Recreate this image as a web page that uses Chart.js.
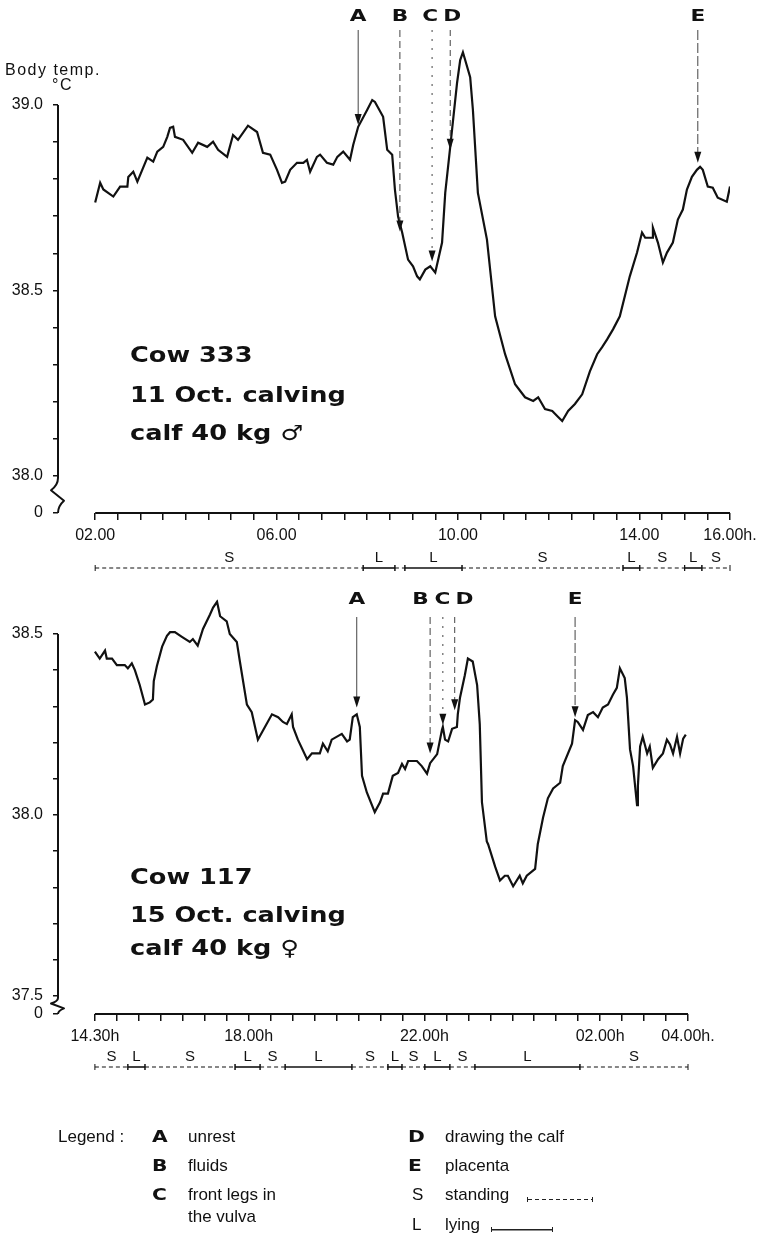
<!DOCTYPE html>
<html lang="en">
<head>
<meta charset="UTF-8">
<title>Body temperature around calving</title>
<script src="https://cdn.jsdelivr.net/npm/chart.js"></script>
<style>
  body { margin: 0; background: #fff; }
  #page { position: relative; width: 774px; height: 1236px; overflow: hidden; color: #111;
          font-family: "Liberation Sans", Arial, sans-serif; }
  canvas { position: absolute; left: 0; }
  .txt { position: absolute; white-space: nowrap; line-height: 18px; }
  .lab { font-size: 16px; letter-spacing: 1.5px; }
  .cow { font-family: "DejaVu Sans", sans-serif; font-weight: bold; font-size: 21px; line-height: 22px;
         transform: scaleX(1.22); transform-origin: 0 50%; }
  .lg { font-size: 17px; }
  .key { font-family: "DejaVu Sans", sans-serif; font-weight: bold; font-size: 15px;
         transform: scaleX(1.35); transform-origin: 0 50%; }
  .smp { position: absolute; height: 5px; border-left: 1px solid #222; border-right: 1px solid #222; }
  .smp.solid { background: linear-gradient(#222, #222) center / 100% 1.5px no-repeat; }
  .smp.dash { background: repeating-linear-gradient(90deg, #222 0 4px, transparent 4px 7px) center / 100% 1px no-repeat; }
</style>
</head>
<body>
<div id="page">
  <canvas id="topChart" width="774" height="580" style="top:0"></canvas>
  <canvas id="bottomChart" width="774" height="656" style="top:580px"></canvas>

  <div class="txt lab" style="left:5px;top:61px">Body temp.</div>
  <div class="txt lab" style="left:52px;top:76px">°C</div>

  <div class="txt cow" style="left:130px;top:344px">Cow 333</div>
  <div class="txt cow" style="left:130px;top:384px">11 Oct. calving</div>
  <div class="txt cow" style="left:130px;top:422px">calf 40 kg ♂</div>

  <div class="txt cow" style="left:130px;top:866px">Cow 117</div>
  <div class="txt cow" style="left:130px;top:904px">15 Oct. calving</div>
  <div class="txt cow" style="left:130px;top:937px">calf 40 kg ♀</div>

  <div class="txt lg" style="left:58px;top:1128px">Legend :</div>
  <div class="txt key" style="left:152px;top:1128px">A</div>
  <div class="txt lg" style="left:188px;top:1128px">unrest</div>
  <div class="txt key" style="left:152px;top:1157px">B</div>
  <div class="txt lg" style="left:188px;top:1157px">fluids</div>
  <div class="txt key" style="left:152px;top:1186px">C</div>
  <div class="txt lg" style="left:188px;top:1186px">front legs in</div>
  <div class="txt lg" style="left:188px;top:1208px">the vulva</div>

  <div class="txt key" style="left:408px;top:1128px">D</div>
  <div class="txt lg" style="left:445px;top:1128px">drawing the calf</div>
  <div class="txt key" style="left:408px;top:1157px">E</div>
  <div class="txt lg" style="left:445px;top:1157px">placenta</div>
  <div class="txt lg" style="left:412px;top:1186px">S</div>
  <div class="txt lg" style="left:445px;top:1186px">standing</div>
  <div class="smp dash" style="left:527px;top:1197px;width:64px"></div>
  <div class="txt lg" style="left:412px;top:1216px">L</div>
  <div class="txt lg" style="left:445px;top:1216px">lying</div>
  <div class="smp solid" style="left:491px;top:1227px;width:60px"></div>
</div>

<script>
// ---- Cow 333 (11 Oct.), time in hours of the day ----
const topTimes = [
  2.00, 2.11, 2.18, 2.40, 2.55, 2.71, 2.73, 2.84, 2.93, 3.15,
  3.28, 3.37, 3.50, 3.59, 3.65, 3.72, 3.76, 3.94, 4.14, 4.27,
  4.47, 4.60, 4.71, 4.91, 5.04, 5.15, 5.37, 5.57, 5.70, 5.86,
  6.01, 6.12, 6.19, 6.30, 6.45, 6.59, 6.67, 6.74, 6.89, 6.96,
  7.11, 7.25, 7.34, 7.47, 7.62, 7.69, 7.80, 8.00, 8.11, 8.17,
  8.35, 8.44, 8.55, 8.61, 8.68, 8.77, 8.90, 9.01, 9.10, 9.16,
  9.28, 9.39, 9.50, 9.65, 9.72, 9.83, 9.98, 10.05, 10.11, 10.27,
  10.33, 10.44, 10.64, 10.82, 11.04, 11.26, 11.48, 11.66, 11.77, 11.92,
  12.08, 12.21, 12.30, 12.43, 12.58, 12.74, 12.91, 13.07, 13.18, 13.29,
  13.42, 13.57, 13.79, 13.95, 14.06, 14.13, 14.28, 14.30, 14.41, 14.52,
  14.61, 14.74, 14.85, 14.96, 15.05, 15.16, 15.27, 15.34, 15.40, 15.51,
  15.62, 15.73, 15.93, 16.00
];
const topTemps = [
  38.737, 38.790, 38.772, 38.753, 38.780, 38.780, 38.806, 38.820, 38.793, 38.858,
  38.847, 38.874, 38.887, 38.914, 38.938, 38.941, 38.914, 38.906, 38.871, 38.898,
  38.887, 38.901, 38.879, 38.860, 38.919, 38.906, 38.944, 38.927, 38.871, 38.866,
  38.825, 38.790, 38.793, 38.825, 38.844, 38.844, 38.852, 38.820, 38.860, 38.866,
  38.844, 38.839, 38.860, 38.874, 38.852, 38.892, 38.941, 38.987, 39.013, 39.008,
  38.968, 38.879, 38.866, 38.772, 38.699, 38.656, 38.583, 38.565, 38.538, 38.530,
  38.556, 38.565, 38.548, 38.629, 38.763, 38.887, 39.059, 39.121, 39.142, 39.075,
  38.987, 38.763, 38.637, 38.430, 38.328, 38.247, 38.212, 38.202, 38.212, 38.180,
  38.175, 38.159, 38.148, 38.175, 38.194, 38.220, 38.282, 38.328, 38.347, 38.368,
  38.395, 38.430, 38.538, 38.602, 38.656, 38.642, 38.642, 38.669, 38.629, 38.575,
  38.602, 38.629, 38.691, 38.718, 38.772, 38.806, 38.825, 38.833, 38.825, 38.780,
  38.777, 38.750, 38.739, 38.780
];
const topEventLabels = ['A', 'B', 'C', 'D', 'E'];
const topEventTimes = [7.80, 8.72, 9.43, 9.83, 15.29];
const topEventTemps = [38.946, 38.659, 38.578, 38.879, 38.844];
const topActivity = ['S', 'L', 'S', 'L', 'S', 'L', 'S', 'L', 'S'];
const topActivityBounds = [2.0, 7.91, 8.61, 8.83, 10.09, 13.64, 14.01, 15.0, 15.38, 16.0];
const topXLabelValues = [2, 6, 10, 14, 16];
const topXLabelTexts = ['02.00', '06.00', '10.00', '14.00', '16.00h.'];
const topYLabelValues = [39.0, 38.5, 38.0, 37.9];
const topYLabelTexts = ['39.0', '38.5', '38.0', '0'];

// ---- Cow 117 (15 Oct.), hours past midnight continue above 24 ----
const bottomTimes = [
  14.50, 14.61, 14.73, 14.77, 14.89, 15.00, 15.18, 15.25, 15.34, 15.41,
  15.52, 15.64, 15.75, 15.82, 15.84, 15.91, 16.03, 16.14, 16.21, 16.32,
  16.48, 16.66, 16.73, 16.84, 16.96, 17.12, 17.19, 17.28, 17.35, 17.50,
  17.57, 17.73, 17.80, 17.96, 18.07, 18.21, 18.37, 18.53, 18.67, 18.78,
  18.87, 18.98, 19.01, 19.12, 19.33, 19.44, 19.62, 19.69, 19.80, 19.89,
  20.12, 20.24, 20.30, 20.37, 20.46, 20.53, 20.58, 20.69, 20.87, 20.99,
  21.06, 21.17, 21.28, 21.40, 21.49, 21.56, 21.63, 21.83, 21.94, 22.06,
  22.13, 22.29, 22.40, 22.42, 22.47, 22.54, 22.63, 22.74, 22.76, 22.81,
  22.92, 22.99, 23.10, 23.20, 23.26, 23.31, 23.42, 23.45, 23.61, 23.72,
  23.83, 23.90, 24.02, 24.17, 24.24, 24.33, 24.52, 24.58, 24.70, 24.81,
  24.93, 25.09, 25.15, 25.36, 25.43, 25.49, 25.61, 25.72, 25.84, 25.95,
  26.06, 26.18, 26.29, 26.38, 26.45, 26.56, 26.61, 26.68, 26.75, 26.84,
  26.86, 26.91, 26.97, 27.07, 27.13, 27.20, 27.32, 27.43, 27.52, 27.59,
  27.66, 27.75, 27.82, 27.89, 27.95
];
const bottomTemps = [
  38.451, 38.432, 38.454, 38.432, 38.432, 38.414, 38.414, 38.405, 38.419, 38.400,
  38.359, 38.305, 38.311, 38.319, 38.370, 38.411, 38.465, 38.495, 38.505, 38.505,
  38.492, 38.478, 38.486, 38.468, 38.514, 38.554, 38.573, 38.589, 38.549, 38.535,
  38.500, 38.478, 38.424, 38.305, 38.284, 38.208, 38.243, 38.278, 38.270, 38.257,
  38.251, 38.278, 38.243, 38.208, 38.154, 38.170, 38.170, 38.197, 38.176, 38.208,
  38.224, 38.203, 38.208, 38.270, 38.278, 38.243, 38.108, 38.062, 38.008, 38.035,
  38.059, 38.059, 38.108, 38.116, 38.141, 38.127, 38.149, 38.149, 38.135, 38.114,
  38.143, 38.168, 38.235, 38.243, 38.208, 38.203, 38.238, 38.243, 38.278, 38.324,
  38.386, 38.432, 38.424, 38.359, 38.251, 38.035, 37.927, 37.919, 37.857, 37.819,
  37.832, 37.832, 37.803, 37.832, 37.811, 37.832, 37.851, 37.919, 37.992, 38.046,
  38.073, 38.089, 38.135, 38.197, 38.262, 38.257, 38.235, 38.276, 38.284, 38.270,
  38.297, 38.305, 38.332, 38.351, 38.405, 38.378, 38.324, 38.181, 38.135, 38.027,
  38.081, 38.189, 38.216, 38.170, 38.189, 38.130, 38.154, 38.170, 38.208, 38.195,
  38.170, 38.216, 38.170, 38.211, 38.222
];
const bottomEventLabels = ['A', 'B', 'C', 'D', 'E'];
const bottomEventTimes = [20.46, 22.13, 22.42, 22.69, 25.43];
const bottomEventTemps = [38.297, 38.170, 38.249, 38.289, 38.270];
const bottomActivity = ['S', 'L', 'S', 'L', 'S', 'L', 'S', 'L', 'S', 'L', 'S', 'L', 'S'];
const bottomActivityBounds = [14.5, 15.25, 15.64, 17.69, 18.26, 18.83, 20.35, 21.17, 21.49, 22.01, 22.58, 23.15, 25.54, 28.0];
const bottomXLabelValues = [14.5, 18, 22, 26, 28];
const bottomXLabelTexts = ['14.30h', '18.00h', '22.00h', '02.00h', '04.00h.'];
const bottomYLabelValues = [38.5, 38.0, 37.5, 37.45];
const bottomYLabelTexts = ['38.5', '38.0', '37.5', '0'];

const INK = '#111';
const ARROW_DASH = [[], [7, 4], [2, 7], [6, 4], [10, 3]];

function range(from, to, step) {
  const out = [];
  for (let v = from; v <= to + 1e-9; v += step) out.push(Math.round(v * 100) / 100);
  return out;
}

function lookup(values, texts, v) {
  const i = values.findIndex(w => Math.abs(w - v) < 1e-6);
  return i < 0 ? '' : texts[i];
}

// axes with a break, event arrows and the standing/lying bar
function overlay(o) {
  return {
    id: 'overlay',
    afterDraw(chart) {
      const { ctx, chartArea: a } = chart;
      const x = chart.scales.x, y = chart.scales.y;
      ctx.save();
      ctx.strokeStyle = INK;
      ctx.fillStyle = INK;
      ctx.lineJoin = 'round';

      // y axis, broken between the lowest labelled value and zero
      const ax = a.left;
      const b0 = y.getPixelForValue(o.yBreak) + 2;
      const h = a.bottom - b0;
      ctx.lineWidth = 2;
      ctx.beginPath();
      ctx.moveTo(ax, y.getPixelForValue(o.yAxisTop));
      ctx.lineTo(ax, b0);
      ctx.quadraticCurveTo(ax, b0 + h * 0.2, ax - 7, b0 + h * 0.35);
      ctx.lineTo(ax + 6, b0 + h * 0.65);
      ctx.quadraticCurveTo(ax, b0 + h * 0.8, ax, a.bottom);
      ctx.stroke();

      // x axis
      ctx.beginPath();
      ctx.moveTo(x.getPixelForValue(o.xStart), a.bottom);
      ctx.lineTo(x.getPixelForValue(o.xEnd), a.bottom);
      ctx.stroke();

      // event letters, spread out where the arrows are close together
      const xs = o.eventTimes.map(t => x.getPixelForValue(t));
      const lx = xs.slice();
      for (let i = 0; i < xs.length;) {
        let j = i;
        while (j + 1 < xs.length && xs[j + 1] - xs[j] < 22) j++;
        const mid = (xs[i] + xs[j]) / 2;
        for (let k = i; k <= j; k++) lx[k] = mid + (k - i - (j - i) / 2) * 22;
        i = j + 1;
      }
      ctx.font = 'bold 16px "DejaVu Sans"';
      ctx.textAlign = 'center';
      ctx.textBaseline = 'middle';
      o.eventLabels.forEach((lab, i) => {
        ctx.save();
        ctx.translate(lx[i], o.letterY);
        ctx.scale(1.35, 1);
        ctx.fillText(lab, 0, 0);
        ctx.restore();

        const tip = y.getPixelForValue(o.eventTemps[i]);
        ctx.strokeStyle = '#444';
        ctx.lineWidth = 1;
        ctx.setLineDash(ARROW_DASH[i % ARROW_DASH.length]);
        ctx.beginPath();
        ctx.moveTo(xs[i], o.arrowTop);
        ctx.lineTo(xs[i], tip - 8);
        ctx.stroke();
        ctx.setLineDash([]);
        ctx.beginPath();
        ctx.moveTo(xs[i], tip);
        ctx.lineTo(xs[i] - 3.5, tip - 11);
        ctx.lineTo(xs[i] + 3.5, tip - 11);
        ctx.closePath();
        ctx.fill();
      });

      // standing / lying bar under the time axis
      const ly = a.bottom + o.rowOffset;
      ctx.strokeStyle = INK;
      ctx.font = '15px "Liberation Sans"';
      ctx.textBaseline = 'alphabetic';
      o.activity.forEach((state, i) => {
        const x1 = x.getPixelForValue(o.bounds[i]);
        const x2 = x.getPixelForValue(o.bounds[i + 1]);
        ctx.lineWidth = state === 'L' ? 1.6 : 1.1;
        ctx.setLineDash(state === 'L' ? [] : [4, 3]);
        ctx.beginPath();
        ctx.moveTo(x1, ly);
        ctx.lineTo(x2, ly);
        ctx.stroke();
        ctx.setLineDash([]);
        ctx.lineWidth = 1;
        ctx.beginPath();
        ctx.moveTo(x1, ly - 3);
        ctx.lineTo(x1, ly + 3);
        ctx.moveTo(x2, ly - 3);
        ctx.lineTo(x2, ly + 3);
        ctx.stroke();
        if (x2 - x1 > 12) ctx.fillText(state, (x1 + x2) / 2, ly - 6);
      });
      ctx.restore();
    }
  };
}

function makeChart(id, d) {
  return new Chart(document.getElementById(id), {
    type: 'line',
    data: {
      datasets: [{
        data: d.times.map((t, i) => ({ x: t, y: d.temps[i] })),
        borderColor: INK,
        borderWidth: 2.2,
        pointRadius: 0,
        tension: 0,
        fill: false
      }]
    },
    options: {
      responsive: false,
      devicePixelRatio: 1,
      animation: false,
      layout: { padding: d.padding },
      plugins: { legend: { display: false }, tooltip: { enabled: false } },
      scales: {
        x: {
          type: 'linear',
          min: d.xMin,
          max: d.xMax,
          afterBuildTicks: s => { s.ticks = range(d.xStart, d.xMax, 0.5).map(v => ({ value: v })); },
          afterFit: s => { s.height = 30; },
          border: { display: false },
          grid: { drawOnChartArea: false, tickLength: 7, tickColor: INK, lineWidth: 1.5 },
          ticks: {
            autoSkip: false, maxRotation: 0, padding: 6, color: INK,
            font: { family: 'Liberation Sans', size: 16 },
            callback: v => lookup(d.xLabelValues, d.xLabelTexts, v)
          }
        },
        y: {
          type: 'linear',
          min: d.yMin,
          max: d.yMax,
          afterBuildTicks: s => {
            const vals = [d.yMin].concat(range(d.yTickFrom, d.yAxisTop, 0.1).filter(v => v > d.yMin + 1e-6));
            s.ticks = vals.map(v => ({ value: v }));
          },
          afterFit: s => { s.width = 58; },
          border: { display: false },
          grid: { drawOnChartArea: false, tickLength: 5, tickColor: INK, lineWidth: 1.5 },
          ticks: {
            padding: 10, color: INK,
            font: { family: 'Liberation Sans', size: 16 },
            callback: v => lookup(d.yLabelValues, d.yLabelTexts, v)
          }
        }
      }
    },
    plugins: [overlay(d.overlay)]
  });
}

makeChart('topChart', {
  times: topTimes, temps: topTemps,
  padding: { top: 40, right: 44, bottom: 37, left: 0 },
  xMin: 1.18, xMax: 16, xStart: 2,
  yMin: 37.9, yMax: 39.175, yTickFrom: 37.9, yAxisTop: 39.0,
  xLabelValues: topXLabelValues, xLabelTexts: topXLabelTexts,
  yLabelValues: topYLabelValues, yLabelTexts: topYLabelTexts,
  overlay: {
    yAxisTop: 39.0, yBreak: 38.0, xStart: 2, xEnd: 16,
    eventLabels: topEventLabels, eventTimes: topEventTimes, eventTemps: topEventTemps,
    letterY: 17, arrowTop: 30,
    activity: topActivity, bounds: topActivityBounds, rowOffset: 55
  }
});

makeChart('bottomChart', {
  times: bottomTimes, temps: bottomTemps,
  padding: { top: 10, right: 86, bottom: 192, left: 0 },
  xMin: 13.66, xMax: 28, xStart: 14.5,
  yMin: 37.45, yMax: 38.595, yTickFrom: 37.5, yAxisTop: 38.5,
  xLabelValues: bottomXLabelValues, xLabelTexts: bottomXLabelTexts,
  yLabelValues: bottomYLabelValues, yLabelTexts: bottomYLabelTexts,
  overlay: {
    yAxisTop: 38.5, yBreak: 37.5, xStart: 14.5, xEnd: 28,
    eventLabels: bottomEventLabels, eventTimes: bottomEventTimes, eventTemps: bottomEventTemps,
    letterY: 20, arrowTop: 37,
    activity: bottomActivity, bounds: bottomActivityBounds, rowOffset: 53
  }
});
</script>
</body>
</html>
